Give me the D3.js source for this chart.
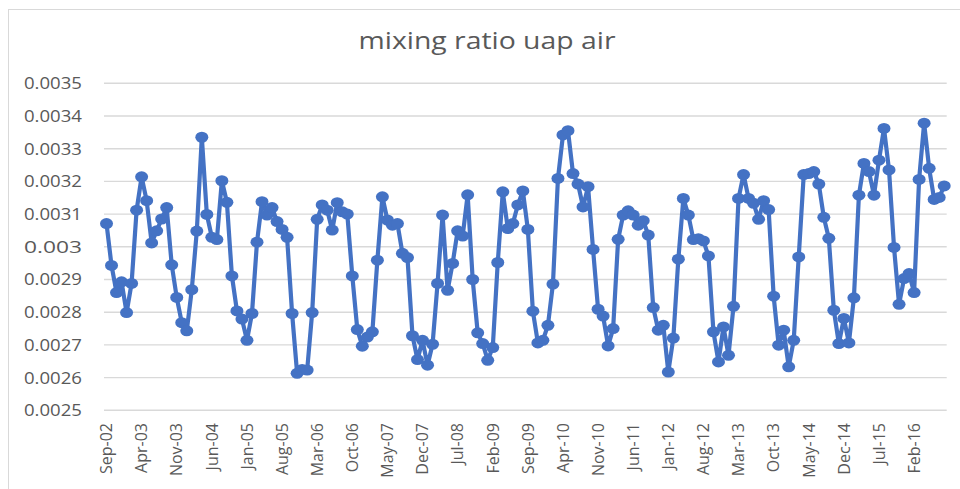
<!DOCTYPE html>
<html>
<head>
<meta charset="utf-8">
<script src="https://cdn.jsdelivr.net/npm/d3@7"></script>
<style>
  html, body { margin: 0; padding: 0; background: #fff; }
  svg { display: block; }
  text { font-family: "Open Sans", "Noto Sans", sans-serif; fill: #595959; }
</style>
</head>
<body>
<svg id="chart" width="960" height="489"></svg>
<script>
// ---- data ----
const title = "mixing ratio uap air";
const startMonth = new Date(2002, 8, 1); // Sep-02
const values = [
  0.003071, 0.002943, 0.002860, 0.002893, 0.002799, 0.002888, 0.003112, 0.003214, 0.003141, 0.003012,
  0.003049, 0.003085, 0.003120, 0.002945, 0.002845, 0.002768, 0.002743, 0.002869, 0.003048, 0.003335,
  0.003099, 0.003029, 0.003022, 0.003202, 0.003136, 0.002911, 0.002804, 0.002779, 0.002714, 0.002796,
  0.003014, 0.003138, 0.003097, 0.003120, 0.003077, 0.003053, 0.003029, 0.002796, 0.002613, 0.002625,
  0.002623, 0.002799, 0.003084, 0.003128, 0.003112, 0.003051, 0.003135, 0.003107, 0.003100, 0.002911,
  0.002747, 0.002696, 0.002724, 0.002740, 0.002959, 0.003153, 0.003082, 0.003066, 0.003071, 0.002980,
  0.002967, 0.002728, 0.002655, 0.002714, 0.002638, 0.002702, 0.002888, 0.003097, 0.002867, 0.002949,
  0.003049, 0.003033, 0.003159, 0.002900, 0.002737, 0.002704, 0.002653, 0.002692, 0.002952, 0.003168,
  0.003056, 0.003071, 0.003128, 0.003171, 0.003053, 0.002803, 0.002706, 0.002714, 0.002760, 0.002886,
  0.003209, 0.003342, 0.003355, 0.003224, 0.003192, 0.003122, 0.003184, 0.002992, 0.002809, 0.002788,
  0.002697, 0.002750, 0.003023, 0.003097, 0.003110, 0.003097, 0.003066, 0.003080, 0.003036, 0.002814,
  0.002745, 0.002760, 0.002617, 0.002721, 0.002962, 0.003148, 0.003097, 0.003022, 0.003025, 0.003018,
  0.002972, 0.002740, 0.002648, 0.002755, 0.002668, 0.002818, 0.003148, 0.003221, 0.003148, 0.003133,
  0.003084, 0.003141, 0.003114, 0.002849, 0.002699, 0.002745, 0.002633, 0.002714, 0.002969, 0.003221,
  0.003224, 0.003230, 0.003192, 0.003090, 0.003026, 0.002806, 0.002704, 0.002781, 0.002706, 0.002844,
  0.003158, 0.003255, 0.003230, 0.003158, 0.003265, 0.003362, 0.003235, 0.002998, 0.002824, 0.002903,
  0.002918, 0.002860, 0.003206, 0.003378, 0.003240, 0.003145, 0.003151, 0.003186
];
const fmtMonth = d3.timeFormat("%b-%y");
const categories = values.map((v, i) => fmtMonth(d3.timeMonth.offset(startMonth, i)));
const xTickLabels = ["Sep-02","Apr-03","Nov-03","Jun-04","Jan-05","Aug-05","Mar-06","Oct-06",
  "May-07","Dec-07","Jul-08","Feb-09","Sep-09","Apr-10","Nov-10","Jun-11","Jan-12","Aug-12",
  "Mar-13","Oct-13","May-14","Dec-14","Jul-15","Feb-16"];
const yTicks = [0.0025, 0.0026, 0.0027, 0.0028, 0.0029, 0.003, 0.0031, 0.0032, 0.0033, 0.0034, 0.0035];

// ---- layout ----
const svg = d3.select("#chart");
const plot = { left: 104, right: 946.7, top: 83.3, bottom: 410.3 };

svg.append("rect")
  .attr("x", 8.5).attr("y", 9.5).attr("width", 980).attr("height", 500)
  .attr("fill", "#fff").attr("stroke", "#d9d9d9").attr("stroke-width", 1);

const x = d3.scaleBand().domain(categories).range([plot.left, plot.right]);
const y = d3.scaleLinear().domain([0.0025, 0.0035]).range([plot.bottom, plot.top]);
const cx = d => x(d) + x.bandwidth() / 2;

// gridlines
svg.append("g").selectAll("line").data(yTicks).join("line")
  .attr("x1", plot.left).attr("x2", plot.right)
  .attr("y1", d => y(d)).attr("y2", d => y(d))
  .attr("stroke", "#d9d9d9").attr("stroke-width", 1.4);

// y labels
svg.append("g").selectAll("text").data(yTicks).join("text")
  .attr("x", 82).attr("y", d => y(d)).attr("dy", "0.36em")
  .attr("text-anchor", "end").attr("font-size", 16.5)
  .attr("textLength", 58).attr("lengthAdjust", "spacingAndGlyphs")
  .text(d => d3.format(".4~f")(d));

// x labels
svg.append("g").selectAll("text").data(xTickLabels).join("text")
  .attr("transform", d => `translate(${cx(d)},423) rotate(-90)`)
  .attr("dy", "0.36em")
  .attr("text-anchor", "end").attr("font-size", 16)
  .text(d => d);

// title
svg.append("text")
  .attr("x", 487).attr("y", 49)
  .attr("text-anchor", "middle").attr("font-size", 23.5)
  .attr("textLength", 257).attr("lengthAdjust", "spacingAndGlyphs")
  .text(title);

// line
const line = d3.line().x((d, i) => cx(categories[i])).y(d => y(d));
svg.append("path").datum(values)
  .attr("d", line).attr("fill", "none")
  .attr("stroke", "#4472C4").attr("stroke-width", 4.2)
  .attr("stroke-linejoin", "round");

// markers
svg.append("g").selectAll("ellipse").data(values).join("ellipse")
  .attr("cx", (d, i) => cx(categories[i])).attr("cy", d => y(d))
  .attr("rx", 6.5).attr("ry", 5.5).attr("fill", "#4472C4");
</script>
</body>
</html>
